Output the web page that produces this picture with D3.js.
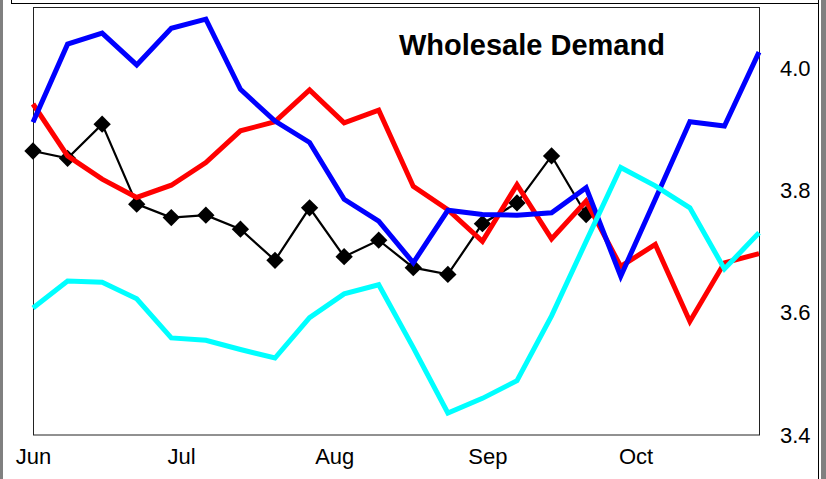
<!DOCTYPE html>
<html>
<head>
<meta charset="utf-8">
<script src="https://cdnjs.cloudflare.com/ajax/libs/d3/7.8.5/d3.min.js"></script>
<style>
html, body { margin: 0; padding: 0; background: #fff; }
svg { display: block; }
text { font-family: "Liberation Sans", Arial, sans-serif; }
</style>
</head>
<body>
<script>
const weeks = ["2023-06-01","2023-06-08","2023-06-15","2023-06-22","2023-06-29","2023-07-06","2023-07-13",
  "2023-07-20","2023-07-27","2023-08-03","2023-08-10","2023-08-17","2023-08-24","2023-08-31",
  "2023-09-07","2023-09-14","2023-09-21","2023-09-28","2023-10-05","2023-10-12","2023-10-19","2023-10-26"];
const blueSeries = [3.912,4.040,4.058,4.006,4.066,4.081,3.966,3.914,3.879,3.786,3.750,3.682,3.768,3.761,3.760,3.764,3.805,3.660,3.786,3.913,3.906,4.027];
const redSeries  = [3.942,3.857,3.819,3.789,3.809,3.846,3.898,3.913,3.965,3.911,3.932,3.807,3.769,3.717,3.810,3.721,3.783,3.676,3.712,3.586,3.682,3.697];
const cyanSeries = [3.608,3.652,3.650,3.623,3.559,3.555,3.540,3.526,3.592,3.631,3.646,3.543,3.436,3.460,3.489,3.595,3.717,3.838,3.808,3.772,3.672,3.731];
const blackSeries = [3.865,3.853,3.909,3.778,3.756,3.760,3.737,3.686,3.772,3.692,3.719,3.674,3.663,3.746,3.780,3.857,3.761];
const monthTicks = ["2023-06-01","2023-07-01","2023-08-01","2023-09-01","2023-10-01"];
const monthLabels = ["Jun","Jul","Aug","Sep","Oct"];
const yTicks = [3.4, 3.6, 3.8, 4.0];
const yDomain = [3.4, 4.1];
const title = "Wholesale Demand";

const W = 826, H = 479;
const parse = d3.timeParse("%Y-%m-%d");
const dates = weeks.map(parse);

const svg = d3.select("body").append("svg").attr("width", W).attr("height", H);
svg.append("rect").attr("width", W).attr("height", H).attr("fill", "#fff");

// outer frame pieces
svg.append("rect").attr("x", 0).attr("y", 0).attr("width", 3).attr("height", H).attr("fill", "#808080");
svg.append("rect").attr("x", 821).attr("y", 0).attr("width", 5).attr("height", H).attr("fill", "#808080");
svg.append("line").attr("x1", 818.5).attr("x2", 818.5).attr("y1", 0).attr("y2", H).attr("stroke", "#000").attr("stroke-width", 1);
svg.append("line").attr("x1", 11).attr("x2", 818.5).attr("y1", 3.5).attr("y2", 3.5).attr("stroke", "#000").attr("stroke-width", 1);
svg.append("line").attr("x1", 11.5).attr("x2", 11.5).attr("y1", 0).attr("y2", 3.5).attr("stroke", "#000").attr("stroke-width", 1);

const plot = { left: 33, right: 759, top: 7.5, bottom: 435 };
const x = d3.scaleTime().domain([dates[0], dates[dates.length - 1]]).range([plot.left, plot.right]);
const y = d3.scaleLinear().domain(yDomain).range([plot.bottom, plot.top]);

svg.append("rect")
  .attr("x", plot.left + 0.5).attr("y", plot.top)
  .attr("width", plot.right - plot.left).attr("height", plot.bottom - plot.top)
  .attr("fill", "none").attr("stroke", "#222").attr("stroke-width", 1);

// right axis labels
const yAxis = d3.axisRight(y).tickValues(yTicks).tickFormat(d3.format(".1f")).tickSize(0).tickPadding(0);
const ya = svg.append("g").attr("transform", `translate(780,0)`).call(yAxis);
ya.select(".domain").remove();
ya.selectAll("text").attr("font-size", 22).attr("fill", "#000")
  .attr("font-family", "'Liberation Sans', Arial, sans-serif");

// bottom axis labels
const xAxis = d3.axisBottom(x).tickValues(monthTicks.map(parse))
  .tickFormat((d, i) => monthLabels[i]).tickSize(0).tickPadding(0);
const xa = svg.append("g").attr("transform", `translate(0,447)`).call(xAxis);
xa.select(".domain").remove();
xa.selectAll("text").attr("font-size", 22).attr("fill", "#000").attr("dy", "0.75em")
  .attr("font-family", "'Liberation Sans', Arial, sans-serif");

const clip = svg.append("clipPath").attr("id", "clip").append("rect")
  .attr("x", plot.left).attr("y", plot.top - 3).attr("width", plot.right - plot.left + 3).attr("height", plot.bottom - plot.top + 3);

const g = svg.append("g");
const line = d3.line().x((d, i) => x(dates[i])).y(d => y(d));

// black series with diamonds
g.append("path").datum(blackSeries).attr("d", line)
  .attr("fill", "none").attr("stroke", "#000").attr("stroke-width", 2.2).attr("stroke-linejoin", "miter");
const diamond = d3.symbol().type(d3.symbolSquare).size(150);
g.selectAll(".dia").data(blackSeries).join("path")
  .attr("class", "dia")
  .attr("d", diamond)
  .attr("transform", (d, i) => `translate(${x(dates[i])},${y(d)}) rotate(45)`)
  .attr("fill", "#000");

const series = [
  { data: redSeries, color: "#ff0000" },
  { data: blueSeries, color: "#0000ff" },
  { data: cyanSeries, color: "#00ffff" }
];
series.forEach(s => {
  g.append("path").datum(s.data).attr("d", line)
    .attr("fill", "none").attr("stroke", s.color).attr("stroke-width", 5)
    .attr("stroke-linejoin", "miter").attr("stroke-linecap", "butt");
});

svg.append("text").attr("x", 399).attr("y", 55)
  .attr("font-size", 29).attr("font-weight", "bold").attr("fill", "#000")
  .text(title);
</script>
</body>
</html>
